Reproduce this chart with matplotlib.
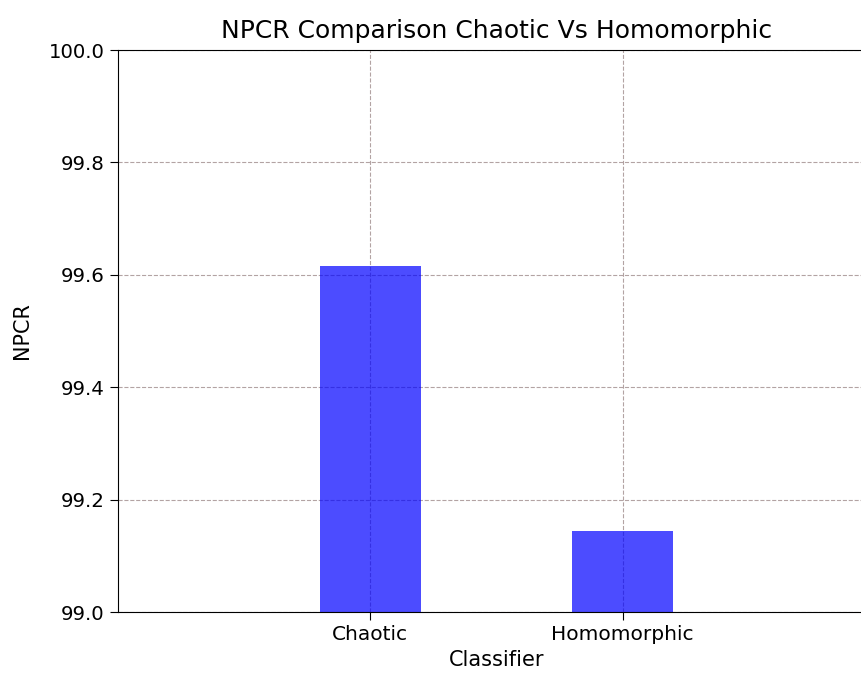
import matplotlib
matplotlib.use("Agg")
import matplotlib.pyplot as plt
import numpy as np

# values
classifiers = ["Chaotic", "Homomorphic"]
npcr = [99.6155, 99.1445]
y_ticks = [99.0, 99.2, 99.4, 99.6, 99.8, 100.0]

fig = plt.figure(figsize=(8.61, 6.73), dpi=100)
# the original figure is cropped on the right, so the axes run past the edge
ax = fig.add_axes([0.137, 0.0906, 0.879, 0.835])

x = np.arange(len(classifiers))
ax.bar(x, npcr, width=0.4, color="blue", alpha=0.7, zorder=2)
ax.set_xlim(-1, 2)
ax.set_ylim(99.0, 100.0)
ax.set_xticks(x)
ax.set_xticklabels(classifiers, fontsize=14.5)
ax.set_yticks(y_ticks)
ax.set_yticklabels([f"{t:.1f}" for t in y_ticks], fontsize=14.2)
ax.set_xlabel("Classifier", fontsize=15)
ax.set_ylabel("NPCR", fontsize=15, labelpad=12)
ax.set_title("NPCR Comparison Chaotic Vs Homomorphic", fontsize=18, pad=9)
ax.grid(True, linestyle="--", color="#a08c8c", alpha=0.8, zorder=3)
ax.tick_params(length=6)

fig.savefig("out.png", dpi=100)
